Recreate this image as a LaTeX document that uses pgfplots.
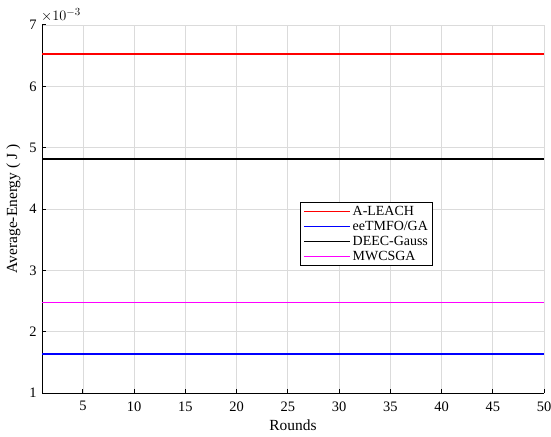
\documentclass[border=0pt]{standalone}
\usepackage{fontspec}
\setmainfont{Liberation Serif}
\usepackage{pgfplots}
\pgfplotsset{compat=1.18}
\definecolor{cA}{rgb}{1,0,0}
\definecolor{cB}{rgb}{0,0,1}
\definecolor{cC}{rgb}{0,0,0}
\definecolor{cD}{rgb}{1,0,1}
\definecolor{gridc}{rgb}{0.86,0.86,0.86}
\begin{document}
\begin{tikzpicture}[font=\fontsize{15.5}{18}\selectfont]
\begin{axis}[
  name=ax,
  scale only axis,
  width=502bp, height=368bp,
  xmin=1, xmax=50, ymin=0.001, ymax=0.007,
  xtick={5,10,...,50},
  ytick={0.001,0.002,0.003,0.004,0.005,0.006,0.007},
  scaled y ticks=base 10:3,
  ytick scale label code/.code={$\times 10^{#1}$},
  every y tick scale label/.style={at={(rel axis cs:0,1)}, anchor=south west, inner sep=0pt, yshift=3bp, xshift=1bp, font=\fontsize{15}{16}\selectfont},
  /pgf/number format/assume math mode=true,
  ticklabel style={font=\fontsize{14.5}{16}\selectfont},
  xticklabel style={yshift=-5bp},
  yticklabel style={xshift=-2bp},
  axis lines*=left,
  axis line style={black, line width=1pt},
  tick style={black, line width=1pt},
  tick align=inside,
  major tick length=4bp,
  grid=major,
  grid style={gridc, line width=0.8pt},
  xlabel={Rounds},
  ylabel={Average-Energy ( J )},
  xlabel style={yshift=-2bp},
  ylabel style={yshift=2bp},
  legend style={at={(0.514,0.519)}, anchor=north west, draw=black, line width=0.8pt, fill=white, font=\fontsize{14}{14}\selectfont, inner xsep=3pt, inner ysep=1.5pt, row sep=0.3pt},
  legend cell align=left,
  legend image code/.code={\draw[#1] (0bp,0bp) -- (46bp,0bp);},
]
\addplot[color=cA, line width=1.3pt] coordinates {(1,0.006527) (50,0.006527)};
\addlegendentry{A-LEACH}
\addplot[color=cB, line width=1.3pt] coordinates {(1,0.001635) (50,0.001635)};
\addlegendentry{eeTMFO/GA}
\addplot[color=cC, line width=1.3pt] coordinates {(1,0.004814) (50,0.004814)};
\addlegendentry{DEEC-Gauss}
\addplot[color=cD, line width=1.3pt] coordinates {(1,0.002472) (50,0.002472)};
\addlegendentry{MWCSGA}
\end{axis}
\pgfresetboundingbox
\path ([shift={(-42bp,-43bp)}]ax.south west) rectangle ([shift={(7bp,25bp)}]ax.north east);
\end{tikzpicture}
\end{document}
